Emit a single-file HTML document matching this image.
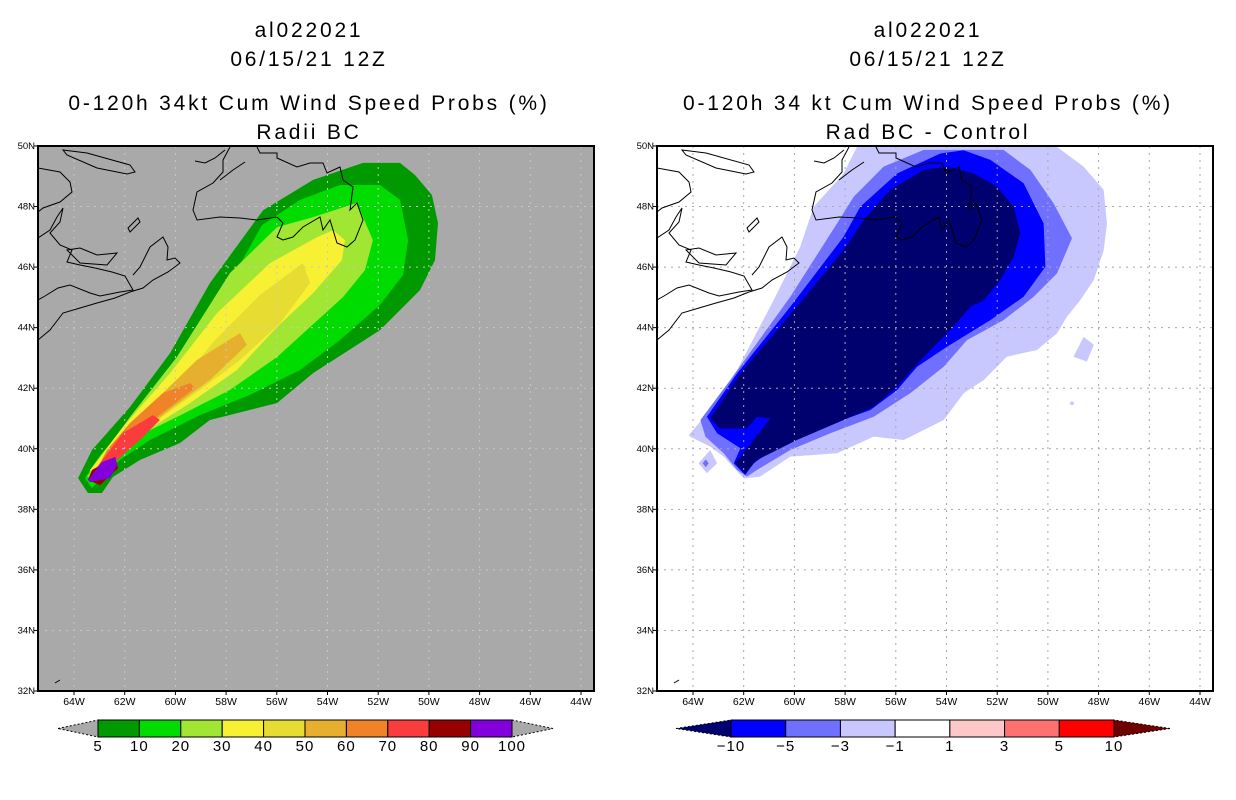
<!DOCTYPE html>
<html><head><meta charset="utf-8">
<style>
html,body{margin:0;padding:0;background:#fff;}
svg{display:block;}
text{font-family:"Liberation Sans",sans-serif;fill:#000;}
.t{font-size:21px;text-anchor:middle;letter-spacing:2.8px;}
.ax{font-size:10.5px;}
</style></head>
<body>
<svg id="fig" width="1236" height="800" viewBox="0 0 1236 800" xmlns="http://www.w3.org/2000/svg">
<rect width="1236" height="800" fill="#fff"/>
<g>
<text class="t" x="309" y="37">al022021</text>
<text class="t" x="309" y="66">06/15/21 12Z</text>
<text class="t" x="309" y="110">0-120h 34kt Cum Wind Speed Probs (%)</text>
<text class="t" x="309" y="139">Radii BC</text>
</g>
<g>
<text class="t" x="928" y="37">al022021</text>
<text class="t" x="928" y="66">06/15/21 12Z</text>
<text class="t" x="928" y="110">0-120h 34 kt Cum Wind Speed Probs (%)</text>
<text class="t" x="928" y="139">Rad BC - Control</text>
</g>
<g id="left"></g>
<g id="right"></g>
<g id="cbL"></g>
<g id="cbR"></g>
</svg>
<script>
const NS="http://www.w3.org/2000/svg";
// axis data
const lonTicks=[-64,-62,-60,-58,-56,-54,-52,-50,-48,-46,-44];
const latTicks=[32,34,36,38,40,42,44,46,48,50];
// left-panel contour polygons [lon,lat]
const p5=[[-63.84,39.03],[-63.29,39.96],[-61.79,41.38],[-60.21,43.16],[-58.64,45.47],[-56.54,47.88],[-54.57,48.88],[-52.6,49.44],[-51.14,49.44],[-50.55,49.04],[-49.88,48.38],[-49.64,47.46],[-49.76,46.23],[-50.35,45.24],[-51.93,43.92],[-54.57,42.5],[-55.99,41.51],[-58.64,40.95],[-59.82,40.19],[-61.4,39.63],[-62.46,39.07],[-62.9,38.54],[-63.45,38.54]];
const p10=[[-63.57,39.03],[-62.97,39.79],[-61.40,41.28],[-59.82,42.93],[-58.24,44.91],[-56.58,47.39],[-55.08,48.22],[-53.51,48.71],[-51.93,48.71],[-51.14,48.22],[-50.82,46.89],[-51.02,45.74],[-51.93,44.75],[-53.51,43.59],[-55.08,42.60],[-57.06,41.78],[-59.03,41.11],[-61.00,40.29],[-62.19,39.63],[-62.97,38.97],[-63.29,38.70]];
const p20=[[-63.49,39.07],[-61.79,41.05],[-59.94,43.03],[-57.85,45.80],[-55.99,47.32],[-54.57,47.65],[-52.84,48.12],[-52.21,46.89],[-52.52,45.90],[-53.39,45.01],[-55.99,43.03],[-57.85,41.94],[-59.94,41.05],[-61.79,40.29],[-62.70,39.63],[-63.17,39.03]];
const p30=[[-63.37,39.30],[-62.07,40.72],[-60.21,42.50],[-58.36,44.48],[-56.27,46.13],[-54.41,46.99],[-53.78,47.22],[-53.31,46.89],[-53.43,46.23],[-54.57,45.14],[-55.99,44.02],[-57.57,42.60],[-59.42,41.51],[-61.28,40.52],[-62.46,39.73],[-63.29,39.07]];
const p40=[[-63.17,39.13],[-61.79,40.62],[-60.21,41.78],[-58.44,43.59],[-56.66,45.08],[-54.97,46.13],[-54.69,45.47],[-55.87,44.15],[-57.45,42.93],[-59.03,41.94],[-61.00,40.78],[-62.38,39.79],[-63.05,39.13]];
const p50=[[-63.09,39.30],[-61.79,40.72],[-60.49,41.84],[-59.15,42.93],[-57.45,43.82],[-57.18,43.43],[-58.64,42.27],[-60.09,41.38],[-61.40,40.52],[-62.46,39.73],[-62.97,39.23]];
const p60=[[-63.25,39.07],[-62.70,39.96],[-61.79,40.85],[-60.49,41.84],[-59.42,42.17],[-59.23,42.01],[-60.21,41.38],[-61.40,40.62],[-62.46,39.86],[-63.09,39.13]];
const p70=[[-63.45,38.97],[-62.97,39.53],[-62.07,40.52],[-60.88,41.11],[-60.61,40.95],[-61.40,40.29],[-62.30,39.63],[-62.90,39.20]];
const p80=[[-63.29,39.30],[-62.38,39.73],[-62.26,39.36],[-62.97,38.80],[-63.45,38.97]];
const p90=[[-63.45,38.97],[-62.90,39.56],[-62.38,39.73],[-62.30,39.46],[-62.58,39.03],[-63.37,38.90]];
// right-panel difference polygons
const dm1=[[-64.17,40.45],[-63.32,41.28],[-62.26,42.60],[-60.82,44.91],[-59.77,46.67],[-59.24,47.99],[-58.06,49.09],[-57.53,49.97],[-49.64,49.97],[-48.59,49.32],[-47.80,48.55],[-47.67,47.44],[-47.80,46.56],[-48.19,45.57],[-48.72,44.91],[-49.25,44.36],[-49.64,43.81],[-50.43,43.26],[-51.62,43.04],[-52.53,42.27],[-53.32,41.83],[-54.11,40.95],[-54.90,40.62],[-55.69,40.29],[-56.87,40.40],[-58.32,39.85],[-60.16,39.74],[-61.35,39.08],[-62.00,39.02],[-62.79,39.74],[-63.32,40.07],[-64.11,40.40]];
const dm1b=[[-48.99,43.04],[-48.59,43.70],[-48.19,43.43],[-48.46,42.88]];
const dm1c=[[-63.78,39.52],[-63.32,39.96],[-63.05,39.52],[-63.45,39.19]];
const dm1d=[[-49.15,41.5],[-49.05,41.58],[-48.95,41.5],[-49.05,41.42]];
const dm3=[[-63.71,40.95],[-62.53,42.27],[-60.16,45.02],[-58.32,47.44],[-57.66,48.32],[-56.48,49.32],[-54.90,49.87],[-51.75,49.87],[-50.69,49.21],[-49.77,48.10],[-49.05,46.95],[-49.64,45.79],[-50.56,45.02],[-51.75,44.25],[-53.19,43.59],[-54.11,42.71],[-55.43,41.83],[-56.87,41.06],[-58.58,40.51],[-60.16,39.96],[-61.48,39.30],[-61.87,39.08],[-62.26,39.30],[-62.79,39.85],[-63.51,40.40]];
const dm3b=[[-63.62,39.52],[-63.5,39.65],[-63.38,39.52],[-63.5,39.39]];
const dm5=[[-63.45,41.06],[-62.26,42.49],[-60.16,44.69],[-58.06,47.00],[-57.40,47.99],[-55.95,49.09],[-54.24,49.75],[-53.32,49.86],[-52.27,49.54],[-50.96,48.77],[-50.17,47.44],[-50.10,46.01],[-50.96,45.02],[-52.27,44.25],[-53.98,43.37],[-55.16,42.71],[-55.95,41.94],[-57.00,41.28],[-58.84,40.73],[-60.69,40.07],[-61.61,39.52],[-61.94,39.13],[-62.39,39.52],[-62.13,40.02],[-63.05,40.51]];
const dm10=[[-63.32,41.00],[-62.13,42.49],[-59.90,44.69],[-58.06,46.56],[-57.27,47.55],[-56.22,48.55],[-54.90,49.21],[-53.98,49.32],[-52.93,49.10],[-52.01,48.65],[-51.35,47.99],[-51.09,47.12],[-51.35,46.34],[-51.88,45.57],[-52.53,44.91],[-53.06,44.69],[-53.85,43.92],[-54.90,43.04],[-55.95,42.05],[-56.87,41.39],[-58.06,40.95],[-59.90,40.29],[-61.48,39.63],[-61.94,39.19],[-62.33,39.52],[-60.95,41.00],[-61.48,41.06],[-61.87,40.67],[-62.92,40.67]];
const leftLevels=["5","10","20","30","40","50","60","70","80","90","100"];
const leftColors=["#009a00","#00dc00","#a0e632","#f8f032","#e6dc32","#e6af2d","#f08228","#fa3c3c","#960000","#8200dc"];
const rightLevels=["-10","-5","-3","-1","1","3","5","10"];
const rightColors=["#0000ff","#7070ff","#c8c8ff","#ffffff","#ffc8c8","#ff7070","#ff0000"];

const X0=38,X1=594,Y0=146,Y1=691;
function xs(lon){return 74+(lon+64)*25.35;}
function ys(lat){return 691-(lat-32)*30.28;}
function mk(tag,attrs,parent){const e=document.createElementNS(NS,tag);for(const k in attrs)e.setAttribute(k,attrs[k]);parent.appendChild(e);return e;}
function poly(g,pts,fill,name){
  const e=mk('polygon',{points:pts.map(p=>xs(p[0]).toFixed(1)+','+ys(p[1]).toFixed(1)).join(' '),fill:fill},g);
  
  
}
const coast=[
"M63,150 L87,153 L130,165 L135,172 L127,174 L97,168 L67,155 Z",
"M38,168 L60,172 L70,182 L72,192 L60,202 L43,208 L38,212",
"M38,238 L50,230 L57,217 L63,208 L60,222 L50,233 L60,245 L72,250 L67,262 L80,265 L95,268 L112,272 L125,276 L133,290 L120,292 L100,296 L90,293 L70,285 L58,288 L45,296 L38,300",
"M38,340 L50,330 L63,313 L80,308 L97,303 L115,298 L130,292 L143,288 L153,280 L168,272 L180,263 L175,258 L167,260 L168,247 L163,237 L150,247 L140,267 L133,275",
"M67,250 L80,248 L97,255 L117,253 L107,265 L80,263 Z",
"M230,147 L223,160 L223,172 L213,183 L197,192 L193,210 L197,220 L220,217 L240,218 L257,220 L277,217 L283,223 L277,237 L283,240 L293,237 L303,227 L320,217 L323,230 L330,220 L337,243 L347,247 L355,240 L363,220 L357,203 L350,210 L353,187 L343,180 L340,167 L327,173 L323,163 L310,163 L297,167 L277,158 L277,153 L260,153 L257,147",
"M195,161 L205,163 L215,158 L225,150",
"M220,180 L233,170 L245,162",
"M128,228 L138,218 L140,222 L130,232 Z",
"M55,683 L60,680"
];
function drawPanel(g,off,bg,gridColor,layers){
  g.setAttribute('transform','translate('+off+',0)');
  mk('rect',{x:X0,y:Y0,width:X1-X0,height:Y1-Y0,fill:bg},g);
  const cg=mk('g',{'clip-path':'url(#clipMap)'},g);
  layers(cg);
  const grid=mk('g',{stroke:gridColor,'stroke-width':1,'stroke-dasharray':'2,5'},g);
  
  
  lonTicks.forEach(l=>{const x=xs(l);mk('line',{x1:x,x2:x,y1:Y0,y2:Y1},grid);});
  latTicks.forEach(l=>{const y=ys(l);if(y>Y0+2&&y<Y1-2)mk('line',{x1:X0,x2:X1,y1:y,y2:y},grid);});
  const cst=mk('g',{fill:'none',stroke:'#000','stroke-width':1,'clip-path':'url(#clipMap)'},g);
  
  
  coast.forEach(d=>mk('path',{d:d},cst));
  mk('rect',{x:X0,y:Y0,width:X1-X0,height:Y1-Y0,fill:'none',stroke:'#000','stroke-width':2},g);
  const tk=mk('g',{},g);
  
  
  lonTicks.forEach(l=>{
    const x=xs(l);
    mk('line',{x1:x,x2:x,y1:Y1,y2:Y1+4,stroke:'#000'},tk);
    const t=mk('text',{x:x,y:Y1+14,'text-anchor':'middle',class:'ax'},tk);
    t.textContent=Math.abs(l)+'W';
    
    
  });
  latTicks.forEach(l=>{
    const y=ys(l);
    mk('line',{x1:X0-4,x2:X0,y1:y,y2:y,stroke:'#000'},tk);
    const t=mk('text',{x:X0-3,y:y+3,'text-anchor':'end',class:'ax',style:'font-size:9.5px'},tk);
    t.textContent=l+'N';
    
    
  });
}
const svg=document.getElementById('fig');
const defs=mk('defs',{},svg);
const cp=mk('clipPath',{id:'clipMap'},defs);
mk('rect',{x:X0,y:Y0,width:X1-X0,height:Y1-Y0},cp);

drawPanel(document.getElementById('left'),0,'#a9a9a9','#c8c8c8',cg=>{
  [p5,p10,p20,p30,p40,p50,p60,p70,p80,p90].forEach((p,i)=>poly(cg,p,leftColors[i],'contour-'+leftLevels[i]));
});
drawPanel(document.getElementById('right'),619,'#ffffff','#a8a8a8',cg=>{
  poly(cg,dm1,'#c8c8ff','diff-contour-minus1');
  poly(cg,dm1b,'#c8c8ff','diff-contour-minus1-patch');
  poly(cg,dm1c,'#c8c8ff','diff-contour-minus1-patch');
  poly(cg,dm1d,'#c8c8ff','diff-contour-minus1-patch');
  poly(cg,dm3,'#7070ff','diff-contour-minus3');
  poly(cg,dm3b,'#7070ff','diff-contour-minus3-patch');
  poly(cg,dm5,'#0000ff','diff-contour-minus5');
  poly(cg,dm10,'#00006e','diff-contour-minus10');
});

function colorbar(g,x0,x1,y0,y1,tipL,tipR,colors,labels,leftTipColor,rightTipColor,labelStart){
  const n=colors.length,w=(x1-x0)/n,ym=(y0+y1)/2;
  mk('polygon',{points:`${tipL},${ym} ${x0},${y0} ${x0},${y1}`,fill:leftTipColor,stroke:'#000','stroke-width':1,'stroke-dasharray':'2,2'},g);
  mk('polygon',{points:`${tipR},${ym} ${x1},${y0} ${x1},${y1}`,fill:rightTipColor,stroke:'#000','stroke-width':1,'stroke-dasharray':'2,2'},g);
  colors.forEach((c,i)=>{
    const r=mk('rect',{x:x0+i*w,y:y0,width:w,height:y1-y0,fill:c,stroke:'#000','stroke-width':1},g);
    
    
  });
  labels.forEach((l,i)=>{
    const t=mk('text',{x:x0+(i+labelStart)*w,y:y1+14,'text-anchor':'middle',style:'font-size:15px;letter-spacing:1px'},g);
    t.textContent=l.replace('-','\u2212');
    
    
  });
}
colorbar(document.getElementById('cbL'),98,512,720,737,58,553,leftColors,leftLevels,'#a9a9a9','#a9a9a9',0);
colorbar(document.getElementById('cbR'),731,1114,720,737,676,1170,rightColors,rightLevels,'#00006e','#6e0000',0);
</script>
</body></html>
